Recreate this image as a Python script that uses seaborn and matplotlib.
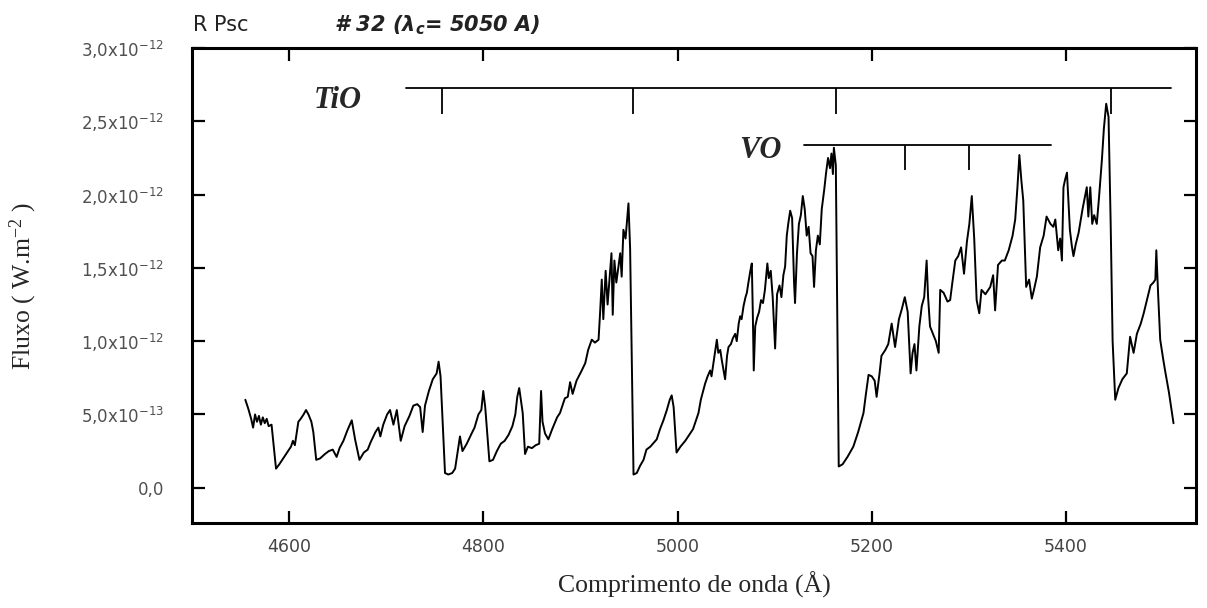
import matplotlib
matplotlib.use("Agg")
import matplotlib.pyplot as plt
import pandas as pd
import seaborn as sns

# Spectrum of R Psc, flux in units of 1e-12 W m^-2
wavelength = [
    4555, 4558, 4561, 4563, 4565, 4567, 4569, 4571, 4573, 4575, 4577, 4579, 4582, 4584,
    4586.6, 4590, 4594, 4598, 4602, 4604, 4606, 4609.6, 4612, 4615, 4617.5, 4620, 4623,
    4625, 4628, 4632, 4637, 4641, 4645, 4649, 4652, 4656, 4660, 4664.6, 4668, 4672.5,
    4677, 4681, 4684, 4689, 4692, 4694, 4697, 4701, 4704, 4707.5, 4711, 4715, 4719,
    4724, 4728, 4732, 4735, 4737.6, 4740, 4744, 4748, 4752, 4754, 4756, 4760.6,
    4764, 4768, 4771, 4776, 4778.6, 4783, 4788, 4791, 4795, 4798, 4800, 4802, 4806.3,
    4810, 4814, 4818, 4822, 4826, 4830, 4833, 4835, 4837, 4840.6, 4843, 4846, 4850,
    4854, 4857.6, 4859.5, 4861, 4863.6, 4867, 4871, 4876, 4879, 4884, 4887, 4889.4,
    4892, 4896, 4901.4, 4905, 4908, 4911.7, 4915, 4918.7, 4920.5, 4922, 4923.6, 4926,
    4928, 4932, 4933.3, 4935, 4937, 4941, 4942.5, 4944.3, 4946.5, 4949.5, 4951.2, 4954.7,
    4958, 4961.5, 4965, 4968, 4972, 4978.6, 4982, 4985.5, 4989, 4992, 4994, 4996, 4999,
    5003, 5008, 5012, 5016, 5021.6, 5024,
    5028.4, 5031, 5033.6, 5035, 5037, 5040.5, 5042, 5044, 5045.6, 5049,
    5051, 5052.5, 5055, 5057, 5059.4, 5061, 5063, 5064.5, 5066, 5068,
    5070, 5071.4, 5073, 5075, 5076.5, 5077.5, 5078.5, 5080, 5082, 5084,
    5086, 5088, 5090, 5092.5, 5094, 5096, 5098, 5100.5, 5102.5, 5105,
    5107, 5109, 5110.8, 5112.5, 5114, 5116, 5118, 5120, 5121, 5123,
    5125, 5127, 5129, 5131, 5133, 5135, 5137, 5139, 5140.6, 5142.5,
    5144.5, 5146.5, 5148.5, 5151, 5153, 5155, 5157, 5158.5, 5160, 5161,
    5163, 5166,
    5170, 5175, 5181, 5186, 5191.5, 5194, 5196.7, 5200, 5203, 5205, 5208, 5210, 5214,
    5217, 5220.5, 5222, 5224, 5228, 5231, 5234, 5237, 5240, 5242, 5244, 5246, 5249,
    5251.5, 5254, 5256.5, 5258, 5260, 5263, 5266, 5268.9, 5270.5, 5274, 5278, 5280.7,
    5283, 5286, 5289, 5292, 5295, 5298, 5300.5, 5303, 5305.5, 5308, 5310.7, 5313, 5317,
    5322, 5325, 5327, 5330, 5334, 5337, 5341, 5345, 5347.7, 5350, 5352, 5354, 5356,
    5359, 5362, 5364.8, 5367, 5370,
    5373.4, 5377, 5380, 5384, 5387, 5389, 5392, 5394, 5395.8, 5397.4, 5399, 5401,
    5402.5, 5404, 5406, 5407.7, 5410, 5413, 5417, 5421.4, 5423, 5425, 5427, 5429,
    5431.7, 5434, 5437, 5439, 5441.4, 5443.8, 5446, 5448, 5450.7, 5454, 5458, 5462.6,
    5466, 5469.6, 5473, 5477, 5480, 5484, 5487, 5490, 5492, 5493, 5495, 5497, 5500,
    5502, 5506, 5510.7,
]
flux = [
    0.60, 0.54, 0.47, 0.41, 0.50, 0.45, 0.49, 0.43, 0.48, 0.44, 0.47, 0.42, 0.43, 0.30,
    0.13, 0.16, 0.20, 0.24, 0.28, 0.32, 0.29, 0.45, 0.47, 0.50, 0.53, 0.50, 0.45,
    0.38, 0.19, 0.20, 0.23, 0.25, 0.26, 0.21, 0.27, 0.32, 0.39, 0.46, 0.33, 0.19,
    0.24, 0.26, 0.31, 0.38, 0.41, 0.35, 0.43, 0.50, 0.53, 0.43, 0.53, 0.32, 0.42,
    0.49, 0.56, 0.57, 0.55, 0.38, 0.56, 0.66, 0.74, 0.78, 0.86, 0.76, 0.10,
    0.09, 0.10, 0.13, 0.35, 0.25, 0.30, 0.37, 0.41, 0.50, 0.53, 0.66, 0.55, 0.18,
    0.19, 0.25, 0.30, 0.32, 0.36, 0.42, 0.50, 0.62, 0.68, 0.51, 0.23, 0.28, 0.27,
    0.29, 0.30, 0.66, 0.45, 0.37, 0.33, 0.40, 0.48, 0.51, 0.61, 0.62, 0.72,
    0.64, 0.73, 0.80, 0.85, 0.94, 1.01, 0.99, 1.01, 1.22, 1.42, 1.15, 1.48,
    1.25, 1.60, 1.18, 1.55, 1.40, 1.60, 1.44, 1.76, 1.70, 1.94, 1.63, 0.09,
    0.10, 0.15, 0.19, 0.26, 0.28, 0.33, 0.40, 0.46, 0.53, 0.60, 0.63, 0.55, 0.24,
    0.28, 0.32, 0.36, 0.40, 0.51, 0.60,
    0.71, 0.76, 0.80, 0.76, 0.85, 1.01, 0.92, 0.94, 0.87, 0.74,
    0.90, 0.96, 0.98, 1.02, 1.05, 1.00, 1.12, 1.17, 1.15, 1.24,
    1.30, 1.33, 1.40, 1.48, 1.53, 1.20, 0.80, 1.10, 1.16, 1.20,
    1.28, 1.26, 1.35, 1.53, 1.43, 1.48, 1.30, 0.95, 1.32, 1.38,
    1.30, 1.45, 1.51, 1.72, 1.80, 1.89, 1.84, 1.40, 1.26, 1.60,
    1.80, 1.86, 1.99, 1.90, 1.72, 1.78, 1.60, 1.58, 1.37, 1.62,
    1.72, 1.66, 1.90, 2.03, 2.15, 2.25, 2.18, 2.28, 2.14, 2.32,
    2.20, 0.145,
    0.16, 0.21, 0.28, 0.38, 0.51, 0.64, 0.77, 0.76, 0.73, 0.62, 0.78, 0.90, 0.94,
    0.98, 1.12, 1.05, 0.96, 1.15, 1.22, 1.30, 1.20, 0.78, 0.92, 0.98, 0.80, 1.10,
    1.24, 1.30, 1.55, 1.30, 1.10, 1.05, 1.00, 0.92, 1.35, 1.33, 1.27, 1.28,
    1.40, 1.55, 1.58, 1.64, 1.46, 1.68, 1.80, 1.99, 1.70, 1.28, 1.19, 1.35, 1.32,
    1.37, 1.45, 1.21, 1.52, 1.55, 1.55, 1.62, 1.72, 1.83, 2.05, 2.27, 2.10, 1.96,
    1.37, 1.42, 1.29, 1.35, 1.44,
    1.64, 1.72, 1.85, 1.80, 1.78, 1.83, 1.62, 1.70, 1.55, 2.05, 2.10, 2.15,
    1.95, 1.76, 1.65, 1.58, 1.66, 1.74, 1.90, 2.05, 1.85, 2.05, 1.80, 1.86,
    1.80, 1.98, 2.24, 2.45, 2.62, 2.53, 1.80, 1.00, 0.60, 0.68, 0.74, 0.78,
    1.03, 0.92, 1.05, 1.12, 1.19, 1.30, 1.38, 1.40, 1.42, 1.62, 1.30, 1.01, 0.88,
    0.80, 0.65, 0.44,
]

# Molecular band heads (Angstrom)
tio_heads = [4758, 4954, 5163, 5446]
tio_bar = [4720, 5508]
vo_heads = [5234, 5300]
vo_bar = [5130, 5385]

x_ticks = [4600, 4800, 5000, 5200, 5400]
y_ticks = [0.0, 0.5, 1.0, 1.5, 2.0, 2.5, 3.0]
y_tick_labels = ["0,0", "5,0x10$^{-13}$", "1,0x10$^{-12}$", "1,5x10$^{-12}$",
                 "2,0x10$^{-12}$", "2,5x10$^{-12}$", "3,0x10$^{-12}$"]

sns.set_theme(style="ticks")
plt.rcParams["font.family"] = ["DejaVu Sans"]
plt.rcParams["mathtext.default"] = "regular"

fig = plt.figure(figsize=(12.07, 6.08), dpi=100)
ax = fig.add_axes([0.159, 0.14, 0.832, 0.781])

df = pd.DataFrame({"wl": wavelength, "flux": flux})
sns.lineplot(data=df, x="wl", y="flux", ax=ax, color="black", linewidth=1.4,
             sort=False, estimator=None)

# Band-head markers
tio_y, tio_len = 2.73, 0.18
vo_y, vo_len = 2.34, 0.17
ax.plot(tio_bar, [tio_y, tio_y], color="black", lw=1.3)
ax.vlines(tio_heads, tio_y - tio_len, tio_y, color="black", lw=1.3)
ax.plot(vo_bar, [vo_y, vo_y], color="black", lw=1.3)
ax.vlines(vo_heads, vo_y - vo_len, vo_y, color="black", lw=1.3)
ax.text(4650, 2.645, "TiO", fontsize=22, fontweight="bold", fontstyle="italic",
        family="Liberation Serif", ha="center", va="center")
ax.text(5085, 2.30, "VO", fontsize=22, fontweight="bold", fontstyle="italic",
        family="Liberation Serif", ha="center", va="center")

ax.set_xlim(4500, 5534)
ax.set_ylim(-0.24, 3.0)
ax.set_xticks(x_ticks)
ax.set_xticklabels([str(t) for t in x_ticks])
ax.set_yticks(y_ticks)
ax.set_yticklabels(y_tick_labels)

ax.tick_params(axis="both", direction="in", length=9, width=1.6, colors="black",
               top=True, right=True, labeltop=False, labelright=False)
ax.tick_params(axis="x", pad=11, labelsize=12.5, labelcolor="#444444")
ax.tick_params(axis="y", pad=20, labelsize=12, labelcolor="#505050")
for side in ["left", "right", "top", "bottom"]:
    ax.spines[side].set_visible(True)
    ax.spines[side].set_linewidth(2.2)
    ax.spines[side].set_color("black")

ax.set_xlabel("Comprimento de onda (Å)", family="Liberation Serif", fontsize=18.5)
ax.xaxis.set_label_coords(0.5, -0.102)
ax.set_ylabel("Fluxo ( W.m$^{-2}$ )", family="Liberation Serif", fontsize=18.5)
ax.yaxis.set_label_coords(-0.152, 0.5)

fig.text(193 / 1207, 1 - 25 / 608, "R Psc", fontsize=15, ha="left", va="center",
         color="#222222")
fig.text(334 / 1207, 1 - 25 / 608, "# 32 (λ$_c$= 5050 A)", fontsize=15,
         fontweight="bold", fontstyle="italic", ha="left", va="center",
         color="#222222")

fig.savefig("out.png", dpi=100, facecolor="white")
